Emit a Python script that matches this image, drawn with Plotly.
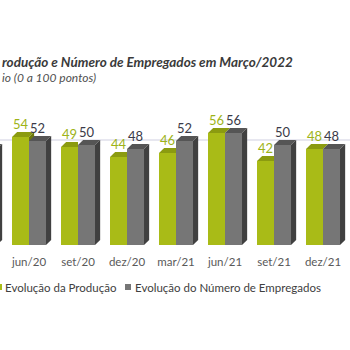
import plotly.graph_objects as go

# ---- data ----
categories = ["mar/20", "jun/20", "set/20", "dez/20", "mar/21", "jun/21", "set/21", "dez/21"]
producao = [40, 54, 49, 44, 46, 56, 42, 48]
empregados = [48, 52, 50, 48, 52, 56, 50, 48]
ref_level = 50
title_text = "rodução e Número de Empregados em Março/2022"
subtitle_text = "io (0 a 100 pontos)"
legend_names = ["Evolução da Produção", "Evolução do Número de Empregados"]

# ---- style ----
FONT = "Lato"
GREEN = "#a9bb17"
GREEN_TOP = "#8b9b10"
GREEN_SIDE = "#6c780b"
GRAY = "#767676"
GRAY_TOP = "#555555"
GRAY_SIDE = "#404040"
W = 0.347      # bar width (category units)
DX = 0.105     # 3D depth, x
DY = 2.5       # 3D depth, y
X0, X1 = 0.408, 0.408 + 350 / 49
PLOT_TOP, PLOT_BOT = 45, 245   # pixels


def py(p):
    return (PLOT_BOT - p) / (PLOT_BOT - PLOT_TOP)


idx = list(range(len(categories)))
fig = go.Figure()
fig.add_trace(go.Bar(x=[i - W / 2 for i in idx], y=producao, width=W,
                     marker=dict(color=GREEN, line=dict(width=0)),
                     name=legend_names[0], showlegend=False))
fig.add_trace(go.Bar(x=[i + W / 2 for i in idx], y=empregados, width=W,
                     marker=dict(color=GRAY, line=dict(width=0)),
                     name=legend_names[1], showlegend=False))

shapes = [dict(type="line", xref="x", yref="y", x0=X0, x1=X1,
               y0=ref_level + DY, y1=ref_level + DY, layer="below",
               line=dict(color="#cfcfe0", width=1))]


def poly(pts, color):
    d = "M " + " L ".join(f"{x},{y}" for x, y in pts) + " Z"
    return dict(type="path", xref="x", yref="y", path=d, fillcolor=color,
                line=dict(width=0), layer="above")


annotations = []
for i, g, e in zip(idx, producao, empregados):
    # green top
    if e > g:
        shapes.append(poly([(i - W, g), (i - W + DX, g + DY), (i, g + DY), (i, g)], GREEN_TOP))
    else:
        shapes.append(poly([(i - W, g), (i - W + DX, g + DY), (i + DX, g + DY), (i, g)], GREEN_TOP))
        if g > e:
            shapes.append(poly([(i, e), (i + DX, e), (i + DX, g + DY), (i, g)], GREEN_SIDE))
    # gray top & side
    shapes.append(poly([(i, e), (i + DX, e + DY), (i + W + DX, e + DY), (i + W, e)], GRAY_TOP))
    shapes.append(poly([(i + W, 0), (i + W + DX, DY), (i + W + DX, e + DY), (i + W, e)], GRAY_SIDE))
    annotations.append(dict(x=i - W / 2, y=g, xref="x", yref="y", text=str(g),
                            showarrow=False, yanchor="middle", yshift=13,
                            font=dict(family=FONT, size=13, color="#9db318")))
    annotations.append(dict(x=i + W / 2, y=e, xref="x", yref="y", text=str(e),
                            showarrow=False, yanchor="middle", yshift=13,
                            font=dict(family=FONT, size=13, color="#3a3a48")))

# title / subtitle
annotations.append(dict(x=0, y=py(62), xref="paper", yref="paper", text=f"<b><i>{title_text}</i></b>",
                        showarrow=False, xanchor="left", yanchor="middle",
                        font=dict(family=FONT, size=13.5, color="#3a3a3a")))
annotations.append(dict(x=0, y=py(77), xref="paper", yref="paper", text=f"<i>{subtitle_text}</i>",
                        showarrow=False, xanchor="left", yanchor="middle",
                        font=dict(family=FONT, size=12, color="#505050")))

# legend (manual)
for sx, col, tx, name in [(-4, GREEN, 3, legend_names[0]), (125, GRAY, 133, legend_names[1])]:
    shapes.append(dict(type="rect", xref="paper", yref="paper",
                       x0=sx / 350, x1=(sx + 6) / 350, y0=py(290), y1=py(284),
                       fillcolor=col, line=dict(width=0), layer="above"))
    annotations.append(dict(x=tx / 350, y=py(287), xref="paper", yref="paper", text=name,
                            showarrow=False, xanchor="left", yanchor="middle",
                            font=dict(family=FONT, size=11.5, color="#404040")))

fig.update_layout(
    width=350, height=350,
    margin=dict(l=0, r=0, t=PLOT_TOP, b=350 - PLOT_BOT),
    paper_bgcolor="white", plot_bgcolor="white",
    barmode="overlay", bargap=0,
    shapes=shapes, annotations=annotations,
    xaxis=dict(range=[X0, X1], tickvals=idx, ticktext=categories, showgrid=False,
               zeroline=False, showline=False, ticks="", ticklabelstandoff=8,
               tickfont=dict(family=FONT, size=11.5, color="#595959")),
    yaxis=dict(range=[0, 100], visible=False, showgrid=False, zeroline=False),
)

fig.write_html("out.html")
